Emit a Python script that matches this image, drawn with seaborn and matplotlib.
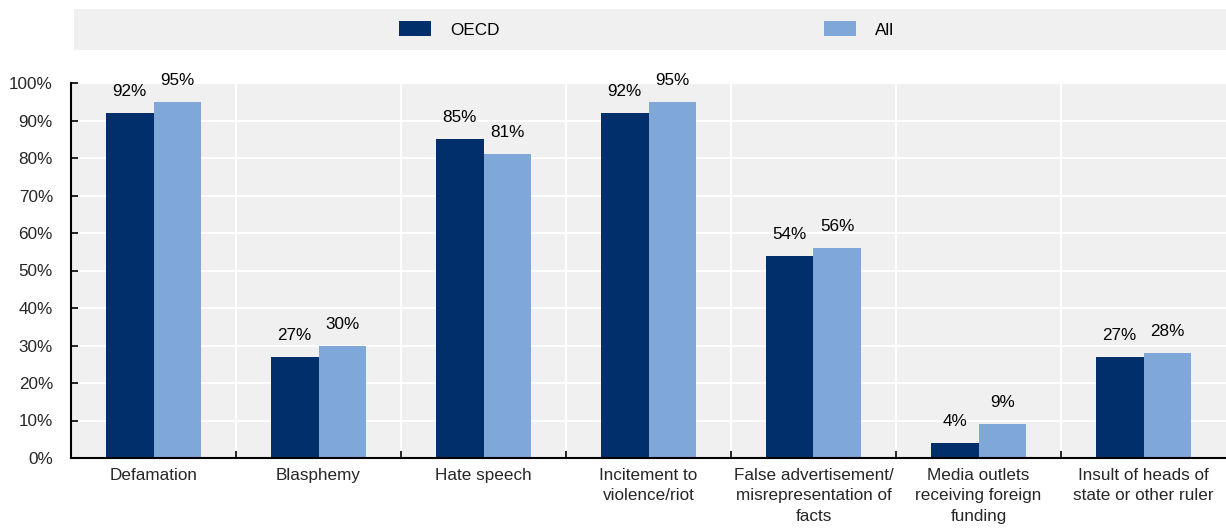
import numpy as np
import pandas as pd
import matplotlib
matplotlib.use("Agg")
import matplotlib.pyplot as plt
from matplotlib.patches import Rectangle, Patch
import seaborn as sns

# Share of countries with legal restrictions, by type of content
categories = [
    "Defamation",
    "Blasphemy",
    "Hate speech",
    "Incitement to\nviolence/riot",
    "False advertisement/\nmisrepresentation of\nfacts",
    "Media outlets\nreceiving foreign\nfunding",
    "Insult of heads of\nstate or other ruler",
]
oecd = [92, 27, 85, 92, 54, 4, 27]
all_countries = [95, 30, 81, 95, 56, 9, 28]
series = ["OECD", "All"]
y_ticks = list(range(0, 101, 10))

df = pd.DataFrame({
    "category": categories * 2,
    "group": ["OECD"] * len(categories) + ["All"] * len(categories),
    "share": oecd + all_countries,
})

colors = {"OECD": "#002F6C", "All": "#7FA8D9"}
panel = "#F0F0F0"
fs = 12.3

sns.set_theme(style="white")
plt.rcParams["font.family"] = ["Liberation Sans", "DejaVu Sans"]
plt.rcParams["text.color"] = "black"

W, H = 1226, 530
fig = plt.figure(figsize=(W / 100, H / 100), dpi=100)
ax = fig.add_axes([71 / W, 72 / H, 1 - 71 / W, 375 / H])

sns.barplot(data=df, x="category", y="share", hue="group",
            order=categories, hue_order=series, palette=colors,
            width=0.58, linewidth=0, saturation=1, legend=False, ax=ax)

ax.set_facecolor(panel)
ax.set_axisbelow(True)
ax.set_xlim(-0.5, len(categories) - 0.5)
ax.set_ylim(0, 100)
ax.set_xlabel("")
ax.set_ylabel("")

# y axis
ax.set_yticks(y_ticks)
ax.set_yticklabels([f"{v}%" for v in y_ticks], fontsize=fs)
ax.tick_params(axis="y", direction="in", length=5, width=1.2, color="black",
               pad=13, left=True)
ax.yaxis.grid(True, color="white", linewidth=1.5)

# x axis: boundary ticks + centered category labels
bounds = np.arange(0.5, len(categories) - 0.5, 1)
ax.set_xticks(bounds)
ax.set_xticklabels([])
ax.set_xticks(np.arange(len(categories)), minor=True)
ax.set_xticklabels(categories, minor=True, fontsize=fs, linespacing=1.45)
ax.tick_params(axis="x", which="major", direction="in", length=5, width=1.2,
               color="black", bottom=True)
ax.tick_params(axis="x", which="minor", length=0, pad=7)
ax.xaxis.grid(True, which="major", color="white", linewidth=1.5)

for side in ("top", "right"):
    ax.spines[side].set_visible(False)
for side in ("left", "bottom"):
    ax.spines[side].set_visible(True)
    ax.spines[side].set_color("black")
    ax.spines[side].set_linewidth(1.5)

# value labels
for cont, vals in zip(ax.containers, [oecd, all_countries]):
    ax.bar_label(cont, labels=[f"{v}%" for v in vals], padding=10, fontsize=fs)

# legend strip
fig.add_artist(Rectangle((74 / W, 1 - 50 / H), 1 - 74 / W, 41 / H,
                         transform=fig.transFigure, facecolor=panel,
                         edgecolor="none", zorder=0))
handles = [Patch(facecolor=colors[s], edgecolor="none") for s in series]
fig.legend(handles, series, loc="center left",
           bbox_to_anchor=(399 / W, 1 - 29.5 / H), ncol=2, frameon=False,
           borderpad=0, borderaxespad=0, handlelength=32 / fs / 1.389,
           handleheight=16 / fs / 1.389, handletextpad=19 / fs / 1.389,
           columnspacing=19.0, fontsize=fs)

fig.savefig("out.png", dpi=100)
